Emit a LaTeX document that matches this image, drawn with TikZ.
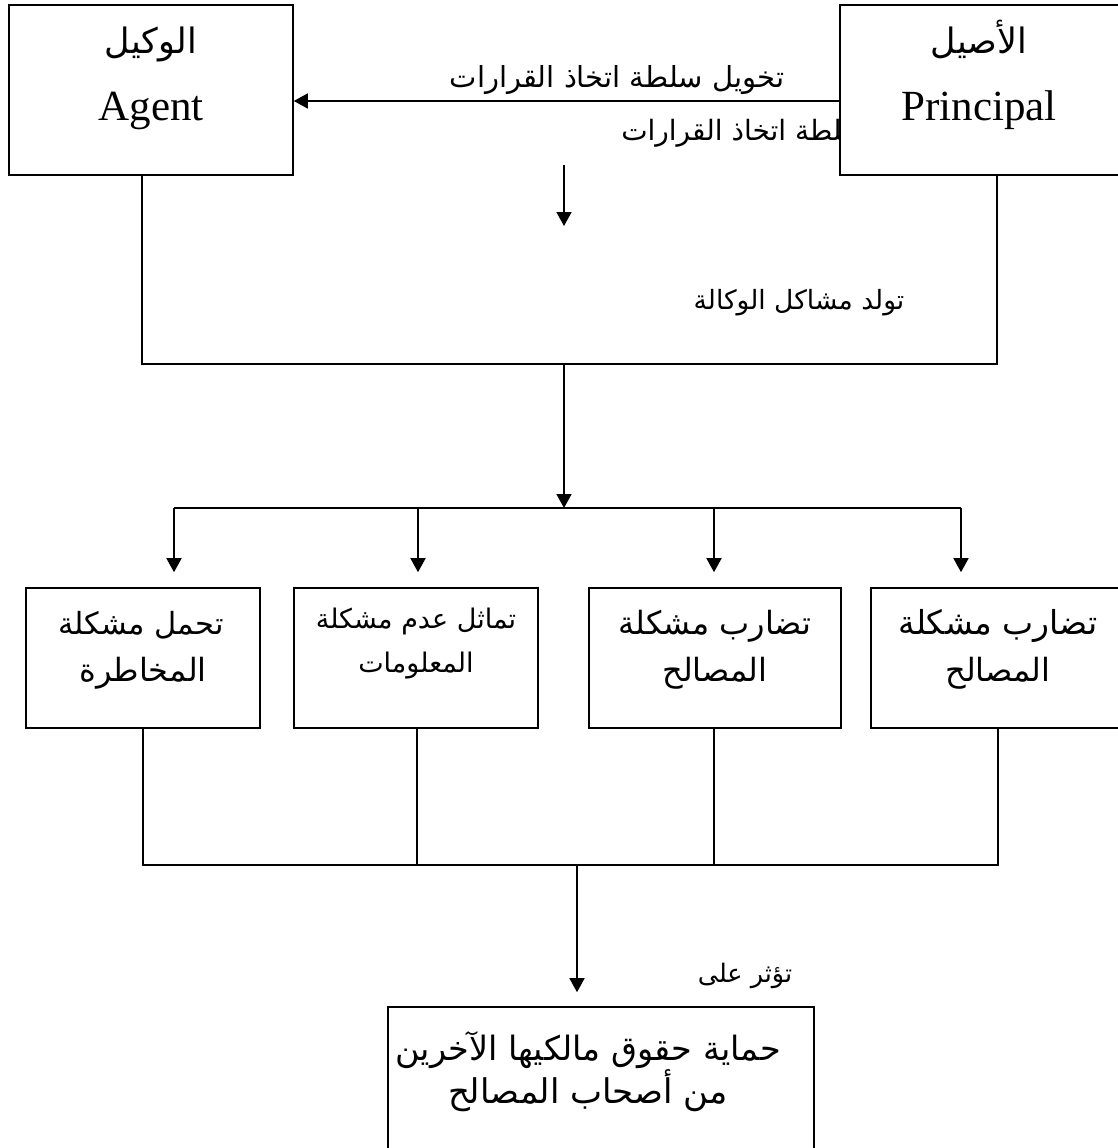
\documentclass[tikz,border=0pt]{standalone}
\usepackage{fontspec}
\setmainfont{Liberation Serif}
\newfontfamily\arabicfont[Script=Arabic]{DejaVu Sans}
\TeXXeTstate=1
\usetikzlibrary{arrows.meta}
% one right-to-left line of Arabic text
\newcommand{\artext}[1]{{\arabicfont\beginR #1\endR}}
\newcommand{\fs}[1]{\fontsize{#1}{1.2\dimexpr #1pt\relax}\selectfont}

\begin{document}
\begin{tikzpicture}[x=1pt,y=-1pt,
  box/.style={draw, line width=1.6pt, fill=white, inner sep=0pt},
  conn/.style={line width=1.6pt},
  thin conn/.style={line width=1.3pt},
  arr/.style={line width=1.6pt, -{Triangle[length=14pt,width=15pt]}},
  txt/.style={inner sep=0pt, anchor=base},
]
\useasboundingbox (0,0) rectangle (1118,1148);

% labels of the delegation arrow (the second one runs under the principal box)
\node[txt] (lbl1) at (617,87) {\fs{29}\artext{تخويل سلطة اتخاذ القرارات}};
\node[inner sep=0pt, anchor=base east] (lbl2) at (866,140) {\fs{28}\artext{سلطة اتخاذ القرارات}};

% principal and agent
\node[box, minimum width=284pt, minimum height=170pt] (agent) at (151,90) {};
\node[box, minimum width=279pt, minimum height=170pt] (principal) at (979.5,90) {};
\node[txt] (agentAr) at (151,54) {\fs{35}\artext{الوكيل}};
\node[txt] (agentEn) at (151,120) {\fs{43}Agent};
\node[txt] (principalAr) at (979,54) {\fs{35}\artext{الأصيل}};
\node[txt] (principalEn) at (979,120) {\fs{43}Principal};

\draw[arr] ([yshift=-11pt]principal.west) -- ([yshift=-11pt]agent.east);

% small arrow between the two boxes
\coordinate (m1) at (564,165);
\coordinate (m2) at (564,226);
\draw[arr] (m1) -- (m2);

% bracket joining agent and principal
\coordinate (uL) at (142,364);
\coordinate (uR) at (997,364);
\coordinate (uM) at (564,364);
\draw[conn] (agent.south -| uL) -- (uL) -- (uR) -- (principal.south -| uR);
\node[txt] (gen) at (799,309) {\fs{26.5}\artext{تولد مشاكل الوكالة}};

% branching to the four problems
\coordinate (bM) at (564,508);
\draw[arr] (uM) -- (bM);
\coordinate (t1) at (174,508);
\coordinate (t2) at (418,508);
\coordinate (t3) at (714,508);
\coordinate (t4) at (961,508);
\draw[conn] (t1) -- (t4);

\node[box, minimum width=234pt, minimum height=140pt] (b1) at (143,658) {};
\node[box, minimum width=244pt, minimum height=140pt] (b2) at (416,658) {};
\node[box, minimum width=252pt, minimum height=140pt] (b3) at (715,658) {};
\node[box, minimum width=248pt, minimum height=140pt] (b4) at (995,658) {};

\foreach \i in {1,2,3,4}{
  \draw[arr] (t\i) -- ([yshift=15pt]b\i.north -| t\i);
}

\node[txt] (b1a) at (141,634) {\fs{30.5}\artext{تحمل مشكلة}};
\node[txt] (b1b) at (143,681) {\fs{32}\artext{المخاطرة}};
\node[txt] (b2a) at (416,628) {\fs{27}\artext{تماثل عدم مشكلة}};
\node[txt] (b2b) at (416,672) {\fs{27}\artext{المعلومات}};
\node[txt] (b3a) at (715,634) {\fs{32}\artext{تضارب مشكلة}};
\node[txt] (b3b) at (715,681) {\fs{32}\artext{المصالح}};
\node[txt] (b4a) at (998,634) {\fs{33}\artext{تضارب مشكلة}};
\node[txt] (b4b) at (998,681) {\fs{32}\artext{المصالح}};

% joining the four problems
\coordinate (j1) at (143,865);
\coordinate (j2) at (417,865);
\coordinate (j3) at (714,865);
\coordinate (j4) at (998,865);
\coordinate (jM) at (577,865);
\draw[thin conn] (b1.south -| j1) -- (j1) -- (j4) -- (b4.south -| j4);
\draw[thin conn] (b2.south -| j2) -- (j2);
\draw[thin conn] (b3.south -| j3) -- (j3);

% effect on stakeholders
\node[box, minimum width=426pt, minimum height=200pt] (res) at (601,1107) {};
\draw[arr] (jM) -- ([yshift=14pt]res.north -| jM);
\node[txt] (aff) at (745,982) {\fs{25.5}\artext{تؤثر على}};
\node[txt] (res1) at (588,1060) {\fs{33.5}\artext{حماية حقوق مالكيها الآخرين}};
\node[txt] (res2) at (588,1103) {\fs{34}\artext{من أصحاب المصالح}};
\end{tikzpicture}
\end{document}
